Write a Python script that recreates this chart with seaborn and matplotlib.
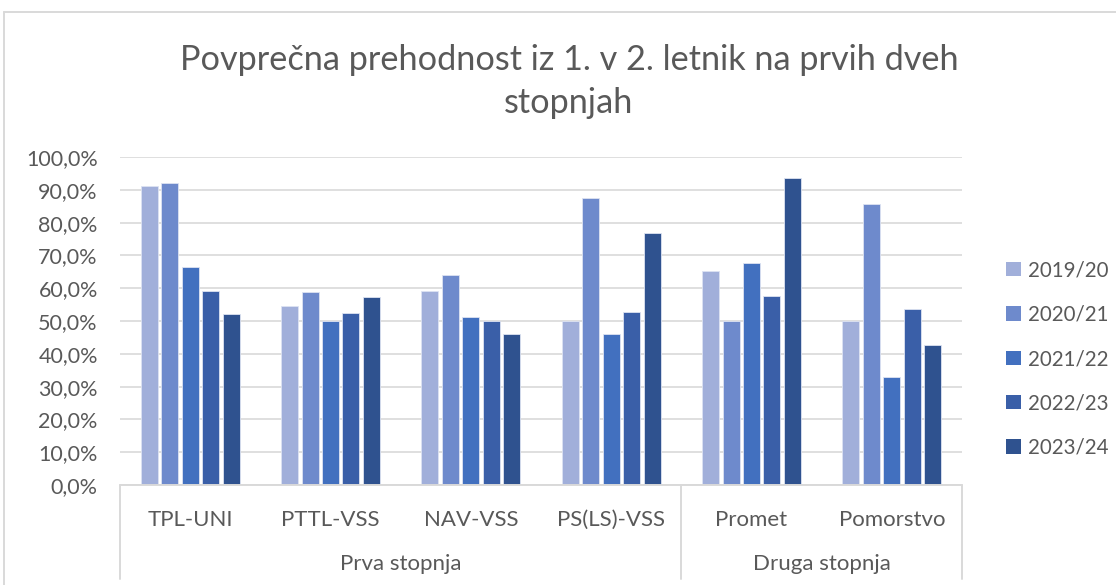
import pandas as pd
import matplotlib.pyplot as plt
import matplotlib.transforms as mtransforms
from matplotlib.patches import Patch
from matplotlib.lines import Line2D
from matplotlib.ticker import FuncFormatter
import seaborn as sns

# Data
programs = ["TPL-UNI", "PTTL-VSS", "NAV-VSS", "PS(LS)-VSS", "Promet", "Pomorstvo"]
levels = ["Prva stopnja", "Prva stopnja", "Prva stopnja", "Prva stopnja",
          "Druga stopnja", "Druga stopnja"]
years = ["2019/20", "2020/21", "2021/22", "2022/23", "2023/24"]
v_2019 = [0.913, 0.545, 0.592, 0.500, 0.651, 0.500]
v_2020 = [0.920, 0.587, 0.639, 0.875, 0.500, 0.857]
v_2021 = [0.666, 0.500, 0.512, 0.461, 0.678, 0.330]
v_2022 = [0.592, 0.524, 0.500, 0.528, 0.576, 0.537]
v_2023 = [0.520, 0.572, 0.459, 0.768, 0.937, 0.428]
colors = ["#A1AFDA", "#6E8ACC", "#4270BF", "#3A5FA8", "#2F528F"]

rows = []
for year, vals in zip(years, [v_2019, v_2020, v_2021, v_2022, v_2023]):
    for prog, v in zip(programs, vals):
        rows.append({"program": prog, "year": year, "value": v})
df = pd.DataFrame(rows)

sns.set_style("white")
plt.rcParams["font.family"] = ["Lato", "DejaVu Sans"]
text_col = "#595959"
grid_col = "#D9D9D9"

fig = plt.figure(figsize=(11.16, 5.85), dpi=100)
ax = fig.add_axes([120 / 1116, 1 - 485 / 585, 842 / 1116, 328 / 585])

sns.barplot(data=df, x="program", y="value", hue="year", order=programs,
            hue_order=years, palette=colors, width=0.73, legend=False,
            saturation=1, ax=ax)

# narrow bars to leave small gaps
for p in ax.patches:
    c = p.get_x() + p.get_width() / 2
    p.set_width(0.121)
    p.set_x(c - 0.0605)
    p.set_edgecolor("#DDE3F2")
    p.set_linewidth(0.6)

ax.set_ylim(0, 1)
ax.set_xlim(-0.5, 5.5)
ax.set_yticks([i / 10 for i in range(11)])
ax.yaxis.set_major_formatter(FuncFormatter(lambda v, _: f"{v * 100:.1f}%".replace(".", ",")))
ax.grid(axis="y", color=grid_col, linewidth=1.2)
ax.set_axisbelow(True)
for s in ax.spines.values():
    s.set_visible(False)
ax.tick_params(axis="y", length=0, pad=16, labelsize=15.5, labelcolor=text_col)
ax.tick_params(axis="x", length=0, pad=18, labelsize=16, labelcolor=text_col)
ax.set_xlabel("")
ax.set_ylabel("")

# category axis with group separators
trans = mtransforms.blended_transform_factory(ax.transData, ax.transAxes)
ax.add_line(Line2D([-0.5, 5.5], [0, 0], transform=trans, color=grid_col,
                   linewidth=1.4, clip_on=False))
for x in [-0.5, 3.5, 5.5]:
    ax.add_line(Line2D([x, x], [0, -0.287], transform=trans, color=grid_col,
                       linewidth=1.4, clip_on=False))
group_names = ["Prva stopnja", "Druga stopnja"]
for g in group_names:
    idx = [i for i, lv in enumerate(levels) if lv == g]
    ax.text(sum(idx) / len(idx), -0.241, g, transform=trans, ha="center",
            va="center", fontsize=16, color=text_col)

# chart border (top and left visible)
fig.add_artist(Line2D([4 / 1116, 1], [1 - 12 / 585, 1 - 12 / 585],
                      transform=fig.transFigure, color=grid_col, linewidth=1.4))
fig.add_artist(Line2D([4 / 1116, 4 / 1116], [0, 1 - 12 / 585],
                      transform=fig.transFigure, color=grid_col, linewidth=1.4))

fig.text(569 / 1116, 1 - 60 / 585, "Povprečna prehodnost iz 1. v 2. letnik na prvih dveh",
         ha="center", va="center", fontsize=24.7, color=text_col)
fig.text(569 / 1116, 1 - 103 / 585, "stopnjah",
         ha="center", va="center", fontsize=24.7, color=text_col)

handles = [Patch(facecolor=c, edgecolor="none") for c in colors]
fig.legend(handles, years, loc="center left", bbox_to_anchor=(996 / 1116, 1 - 359 / 585),
           frameon=False, fontsize=14.8, labelcolor=text_col, handlelength=0.7,
           handleheight=0.7, handletextpad=0.35, labelspacing=1.18, borderpad=0)

fig.savefig("out.png", dpi=100)
